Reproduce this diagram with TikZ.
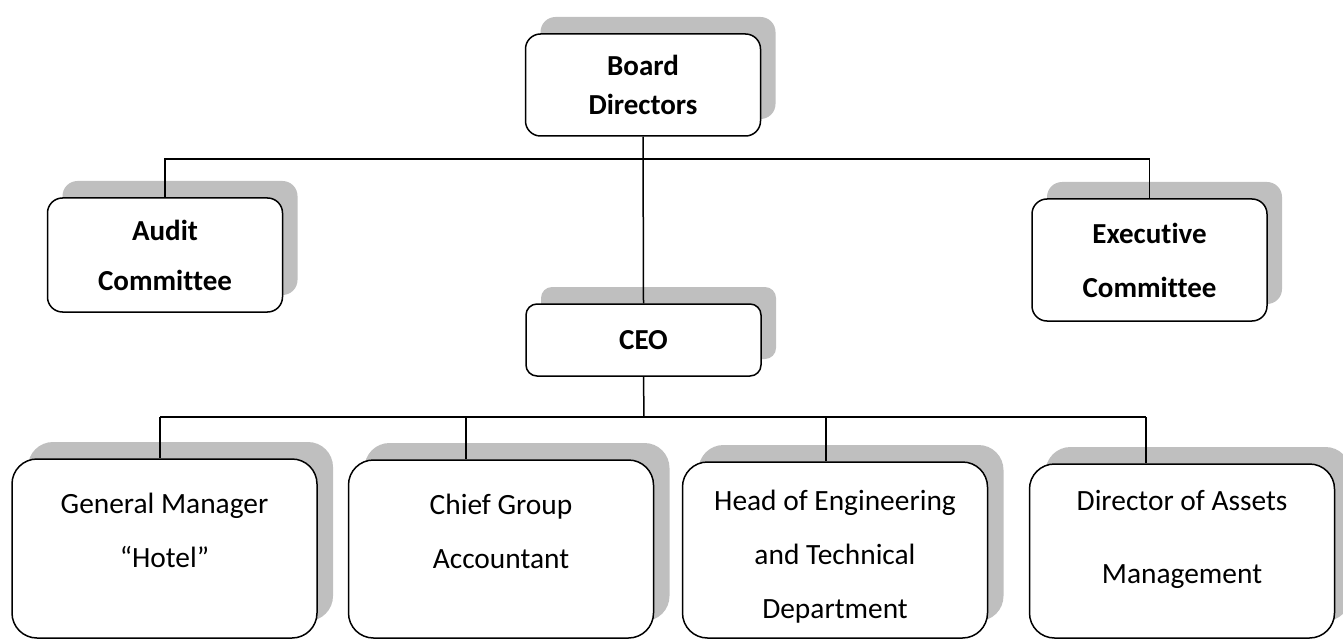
\documentclass[tikz,border=0pt]{standalone}
\usepackage{fontspec}
\setmainfont{Carlito}[Ligatures=NoCommon]
\usepackage{tikz}
\usetikzlibrary{shadows}
\tikzstyle{top_box} = [rectangle, rounded corners=15pt, draw=black, line width=1.5pt, fill=white, text centered, align=center, minimum width=235pt, inner sep=0pt, font=\bfseries\fontsize{29}{50}\selectfont, drop shadow={shadow xshift=15pt, shadow yshift=17pt, fill=black!25, opacity=1}]
\tikzstyle{low_box} = [rectangle, rounded corners=25pt, draw=black, line width=1.5pt, fill=white, text centered, align=center, minimum width=305pt, inner sep=0pt, font=\fontsize{29.4}{54}\selectfont, drop shadow={shadow xshift=16pt, shadow yshift=17pt, fill=black!25, opacity=1}]

\begin{document}
\begin{tikzpicture}[x=1pt, y=-1pt, line width=1.5pt]
\useasboundingbox (0,0) rectangle (1343,639);
% top level
\node (board) [top_box, minimum height=102pt, font=\bfseries\fontsize{29}{39}\selectfont] at (643,85) {Board\\Directors};
\node (audit) [top_box, minimum height=114pt] at (165,255) {Audit\\Committee};
\node (exec) [top_box, minimum height=122pt, font=\bfseries\fontsize{29}{54}\selectfont] at (1149.5,260) {Executive\\Committee};
\node (ceo) [top_box, minimum height=72pt, rounded corners=11pt] at (643.5,340) {CEO};
% departments
\node (gm) [low_box, minimum height=179pt] at (164.5,548.5) {General Manager\\``Hotel''\\[-18pt]\mbox{}};
\node (chief) [low_box, minimum height=178pt] at (501,549) {Chief Group\\Accountant\\[-18pt]\mbox{}};
\node (head) [low_box, minimum height=176pt] at (835,550) {Head of Engineering\\and Technical\\Department\\[-62pt]\mbox{}};
\node (dir) [low_box, minimum height=174pt] at (1182,551) {Director of Assets\\[19pt]Management\\[-26pt]\mbox{}};
% lines
\draw (board.south) -- (ceo.north);
\draw (audit.north) -- ++(0,-38) -| (exec.north);
\coordinate (bus) at (644,417);
\draw (ceo.south) -- (bus);
\foreach \n/\x in {gm/160, chief/466, head/826, dir/1146}
{
    \coordinate (t\n) at (\x,417);
    \draw (t\n) -- (t\n |- \n.north);
}
\draw (tgm) -- (tdir);
\end{tikzpicture}
\end{document}
